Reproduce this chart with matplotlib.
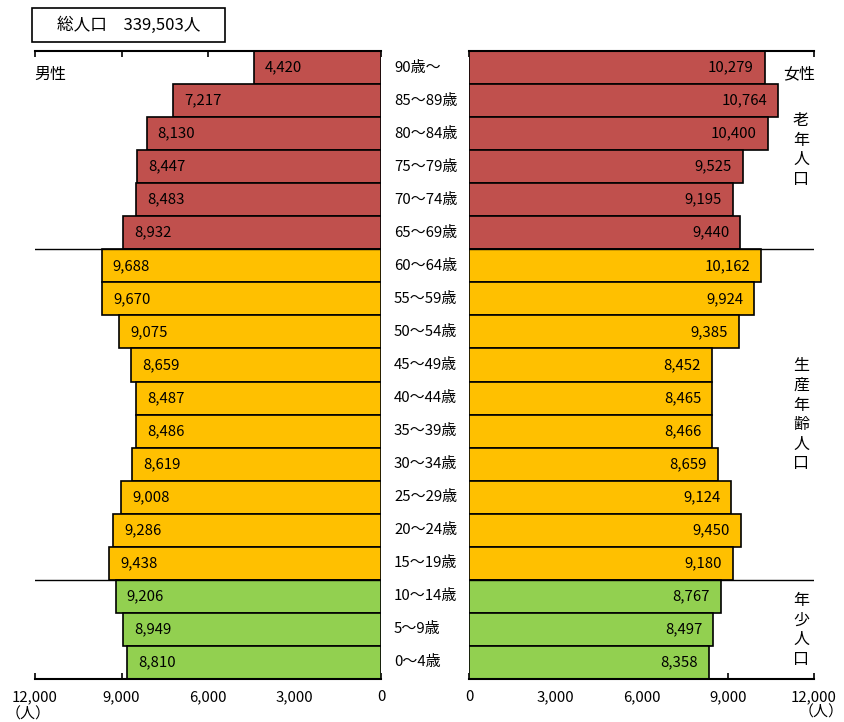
import matplotlib
matplotlib.use("Agg")
import matplotlib.pyplot as plt
import matplotlib.transforms as mtransforms
from matplotlib.patches import Rectangle
import numpy as np

plt.rcParams['font.family'] = ['Noto Sans CJK JP', 'DejaVu Sans']

# ---- data ----
age_labels = ["90歳～", "85～89歳", "80～84歳", "75～79歳", "70～74歳", "65～69歳",
              "60～64歳", "55～59歳", "50～54歳", "45～49歳", "40～44歳", "35～39歳",
              "30～34歳", "25～29歳", "20～24歳", "15～19歳", "10～14歳", "5～9歳", "0～4歳"]
male = [4420, 7217, 8130, 8447, 8483, 8932, 9688, 9670, 9075, 8659,
        8487, 8486, 8619, 9008, 9286, 9438, 9206, 8949, 8810]
female = [10279, 10764, 10400, 9525, 9195, 9440, 10162, 9924, 9385, 8452,
          8465, 8466, 8659, 9124, 9450, 9180, 8767, 8497, 8358]
groups = ["老年"] * 6 + ["生産"] * 10 + ["年少"] * 3
group_colors = {"老年": "#C0504D", "生産": "#FFC000", "年少": "#92D050"}
xticks = [0, 3000, 6000, 9000, 12000]
total_label = "総人口　339,503人"

W, H = 845, 722
fig = plt.figure(figsize=(W / 100, H / 100), dpi=100)


def frac(x0, y0, x1, y1):
    return [x0 / W, 1 - y1 / H, (x1 - x0) / W, (y1 - y0) / H]


axL = fig.add_axes(frac(35, 51, 381, 679))
axR = fig.add_axes(frac(469, 51, 814, 679))

n = len(male)
ypos = np.arange(n)
colors = [group_colors[g] for g in groups]
FS = 10.8

axL.barh(ypos, male, height=1.0, color=colors, edgecolor='black', linewidth=1.2, zorder=2)
axR.barh(ypos, female, height=1.0, color=colors, edgecolor='black', linewidth=1.2, zorder=2)
axL.set_xlim(12000, 0)
axR.set_xlim(0, 12000)

for ax in (axL, axR):
    ax.set_ylim(n - 0.5, -0.5)
    ax.set_yticks([])
    ax.spines['left'].set_visible(False)
    ax.spines['right'].set_visible(False)
    ax.spines['top'].set_linewidth(1.5)
    ax.spines['bottom'].set_linewidth(1.5)
    ax.set_xticks(xticks)
    ax.set_xticklabels([f"{v:,}" for v in xticks])
    ax.tick_params(axis='x', direction='in', length=4, width=1.2, top=True, bottom=True,
                   labeltop=False, labelsize=FS, pad=8)
    for b in (5.5, 15.5):
        ax.axhline(b, color='black', lw=1, zorder=3)

for i, v in enumerate(male):
    axL.annotate(f"{v:,}", (v, i), xytext=(8, 0), textcoords='offset points',
                 ha='left', va='center', fontsize=FS, zorder=4)
for i, v in enumerate(female):
    axR.annotate(f"{v:,}", (v, i), xytext=(-8, 0), textcoords='offset points',
                 ha='right', va='center', fontsize=FS, zorder=4)

# age labels in the middle
trans = mtransforms.blended_transform_factory(fig.transFigure, axL.transData)
for i, lab in enumerate(age_labels):
    fig.text(394 / W, i, lab, transform=trans, ha='left', va='center', fontsize=FS)

# sex labels
fig.text(34 / W, 1 - 74 / H, "男性", ha='left', va='center', fontsize=11.5)
fig.text(815 / W, 1 - 74 / H, "女性", ha='right', va='center', fontsize=11.5)

# group labels (vertical)
fig.text(801 / W, 1 - 150 / H, "\n".join("老年人口"), ha='center', va='center',
         fontsize=11.5, linespacing=1.2)
fig.text(801 / W, 1 - 415 / H, "\n".join("生産年齢人口"), ha='center', va='center',
         fontsize=11.5, linespacing=1.2)
fig.text(801 / W, 1 - 630 / H, "\n".join("年少人口"), ha='center', va='center',
         fontsize=11.5, linespacing=1.2)

# units
fig.text(28 / W, 1 - 714 / H, "（人）", ha='center', va='center', fontsize=FS)
fig.text(844 / W, 1 - 712 / H, "（人）", ha='right', va='center', fontsize=FS)

# total population box
fig.patches.append(Rectangle((32 / W, 1 - 42 / H), (225 - 32) / W, 34 / H,
                             transform=fig.transFigure, facecolor='white',
                             edgecolor='black', linewidth=1.2))
fig.text(128.5 / W, 1 - 25 / H, total_label, ha='center', va='center', fontsize=12)

fig.savefig("out.png", dpi=100)
